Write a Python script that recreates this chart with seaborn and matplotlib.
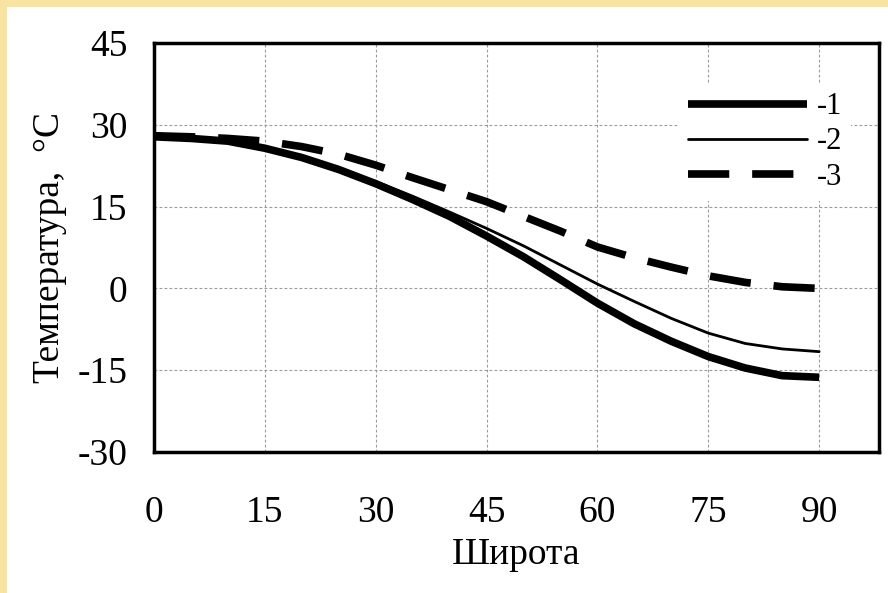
import matplotlib
matplotlib.use("Agg")
import matplotlib.pyplot as plt
import matplotlib.patches as mpatches
import seaborn as sns

# широта, градусы
shirota = [0, 5, 10, 15, 20, 25, 30, 35, 40, 45, 50, 55, 60, 65, 70, 75, 80, 85, 90]
# температура по кривым 1, 2, 3
temp_1 = [27.8, 27.5, 27.0, 25.7, 24.0, 21.8, 19.2, 16.3, 13.2, 9.6, 5.8, 1.6, -2.7, -6.5, -9.7, -12.5, -14.6, -16.0, -16.3]
temp_2 = [27.8, 27.5, 27.0, 25.7, 24.0, 22.0, 19.6, 16.9, 14.0, 11.0, 7.8, 4.3, 0.8, -2.4, -5.5, -8.2, -10.1, -11.1, -11.6]
temp_3 = [28.0, 27.8, 27.5, 27.0, 26.0, 24.6, 22.6, 20.3, 18.1, 15.9, 13.2, 10.5, 7.6, 5.6, 3.9, 2.3, 1.1, 0.3, 0.0]
metki = ["-1", "-2", "-3"]

x_ticks = [0, 15, 30, 45, 60, 75, 90]
y_ticks = [-30, -15, 0, 15, 30, 45]

sns.set_style("white")
plt.rcParams["font.family"] = ["Liberation Serif", "DejaVu Serif"]
plt.rcParams["axes.unicode_minus"] = False

fig = plt.figure(figsize=(8.88, 5.93), dpi=100)
fig.patch.set_facecolor("#F9E3A2")
# белая подложка слайда
fig.patches.append(mpatches.Rectangle((7 / 888, 0), 1, 1 - 7 / 593,
                                      transform=fig.transFigure,
                                      facecolor="white", edgecolor="none", zorder=-10))

ax = fig.add_axes([154 / 888, 1 - 452 / 593, 725 / 888, 409 / 593])
ax.set_facecolor("white")

sns.lineplot(x=shirota, y=temp_1, ax=ax, color="black", linewidth=5.5,
             label=metki[0], solid_capstyle="butt", zorder=3)
sns.lineplot(x=shirota, y=temp_2, ax=ax, color="black", linewidth=2,
             label=metki[1], zorder=4)
sns.lineplot(x=shirota, y=temp_3, ax=ax, color="black", linewidth=5.5,
             label=metki[2], linestyle=(0, (5.4, 3.0)), dash_capstyle="butt", zorder=3)

ax.set_xlim(0, 98.1)
ax.set_ylim(-30, 45)
ax.set_xticks(x_ticks)
ax.set_yticks(y_ticks)
ax.grid(True, color="#9a9a9a", linestyle=(0, (2.5, 2)), linewidth=0.8)
ax.set_axisbelow(True)

for s in ax.spines.values():
    s.set_visible(True)
    s.set_color("black")
    s.set_linewidth(2.5)

ax.tick_params(axis="both", direction="in", length=6, width=2, colors="black",
               labelsize=27)
ax.tick_params(axis="x", pad=31)
ax.tick_params(axis="y", pad=19)

ax.set_xlabel("Широта", fontsize=27, labelpad=6, color="black")
ax.set_ylabel("Температура,  °C", fontsize=27, labelpad=8, color="black")

leg = ax.legend(loc="center", bbox_to_anchor=(0.843, 0.758), fontsize=22,
                handlelength=3.9, handletextpad=0.3, labelspacing=0.2,
                borderpad=0.3, frameon=True, fancybox=False, framealpha=1)
leg.get_frame().set_edgecolor("none")
leg.get_frame().set_facecolor("white")
for t in leg.get_texts():
    t.set_color("black")

fig.savefig("out.png", dpi=100, facecolor=fig.get_facecolor())
